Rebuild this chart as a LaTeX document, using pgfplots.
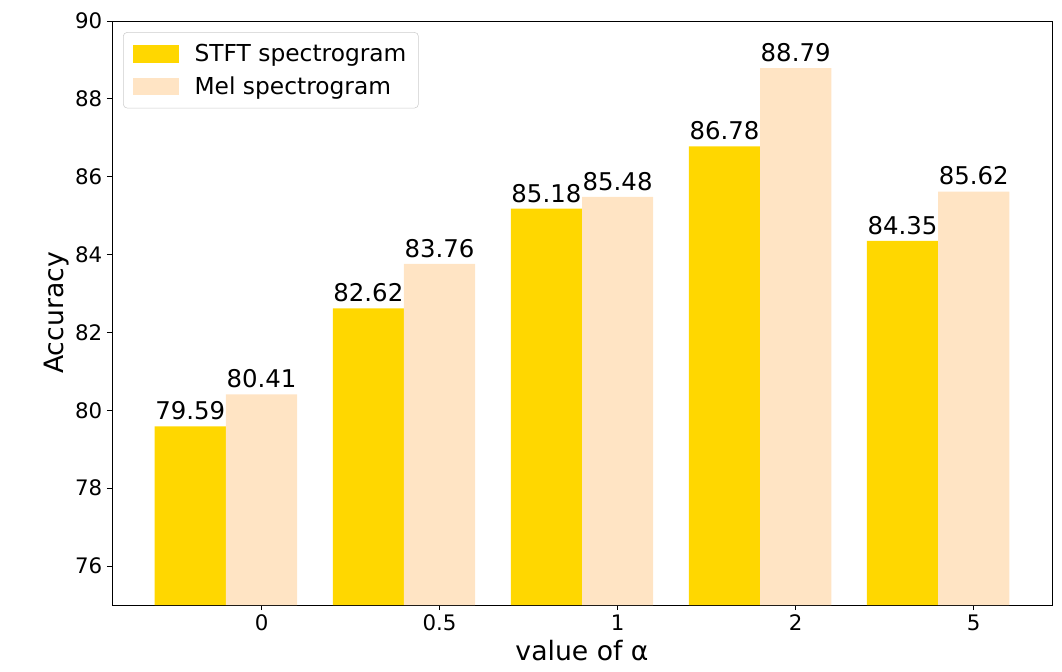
\documentclass[border=0pt]{standalone}
\usepackage{fontspec}
\setmainfont{DejaVu Sans}
\usepackage{pgfplots}
\pgfplotsset{compat=1.18}
\definecolor{gold}{RGB}{255,215,0}
\definecolor{bisque}{RGB}{255,228,196}
\definecolor{legframe}{RGB}{204,204,204}
\begin{document}
\begin{tikzpicture}
\begin{axis}[
  scale only axis, width=705pt, height=438pt,
  xmin=-0.84, xmax=4.44, ymin=75, ymax=90,
  xtick={0,1,2,3,4}, xticklabels={0,0.5,1,2,5},
  ytick={76,78,...,90},
  tick align=outside, tick pos=left,
  major tick length=3.75pt,
  every tick/.style={black, line width=0.6pt},
  axis line style={line width=0.6pt},
  /pgf/number format/assume math mode=true,
  ticklabel style={font=\fontsize{16}{19}\selectfont},
  xlabel={value of α}, ylabel={Accuracy},
  label style={font=\fontsize{20}{24}\selectfont},
  xlabel style={at={(axis description cs:0.5,-0.078)}, anchor=center},
  ylabel style={at={(axis description cs:-0.0585,0.5)}, anchor=center},
  legend style={at={(0.0117,0.981)}, anchor=north west, draw=legframe, rounded corners=3pt, fill=white,
    font=\fontsize{17.5}{21}\selectfont, inner xsep=7pt, inner ysep=7pt, row sep=5.5pt,
    nodes={inner sep=2pt}},
  legend cell align=left,
  nodes near coords, point meta=explicit symbolic,
  nodes near coords style={font=\fontsize{18.3}{22}\selectfont, anchor=south, inner sep=0pt, yshift=4.5pt, black},
]
\addplot[ybar, fill=gold, draw=none, bar width=0.4, bar shift=0pt,
  legend image code/.code={\fill[gold, sharp corners] (0pt,-6.4pt) rectangle (34.5pt,6.4pt); \path (44.5pt,0pt);}]
  coordinates {(-0.4,79.59)[79.59] (0.6,82.62)[82.62] (1.6,85.18)[85.18] (2.6,86.78)[86.78] (3.6,84.35)[84.35]};
\addlegendentry{STFT spectrogram}
\addplot[ybar, fill=bisque, draw=none, bar width=0.4, bar shift=0pt,
  legend image code/.code={\fill[bisque, sharp corners] (0pt,-6.4pt) rectangle (34.5pt,6.4pt); \path (44.5pt,0pt);}]
  coordinates {(0,80.41)[80.41] (1,83.76)[83.76] (2,85.48)[85.48] (3,88.79)[88.79] (4,85.62)[85.62]};
\addlegendentry{Mel spectrogram}
\end{axis}
\pgfresetboundingbox
\path[use as bounding box] ([xshift=-84pt,yshift=-49.5pt]current axis.south west) rectangle ([xshift=712.5pt,yshift=453.75pt]current axis.south west);
\end{tikzpicture}
\end{document}
